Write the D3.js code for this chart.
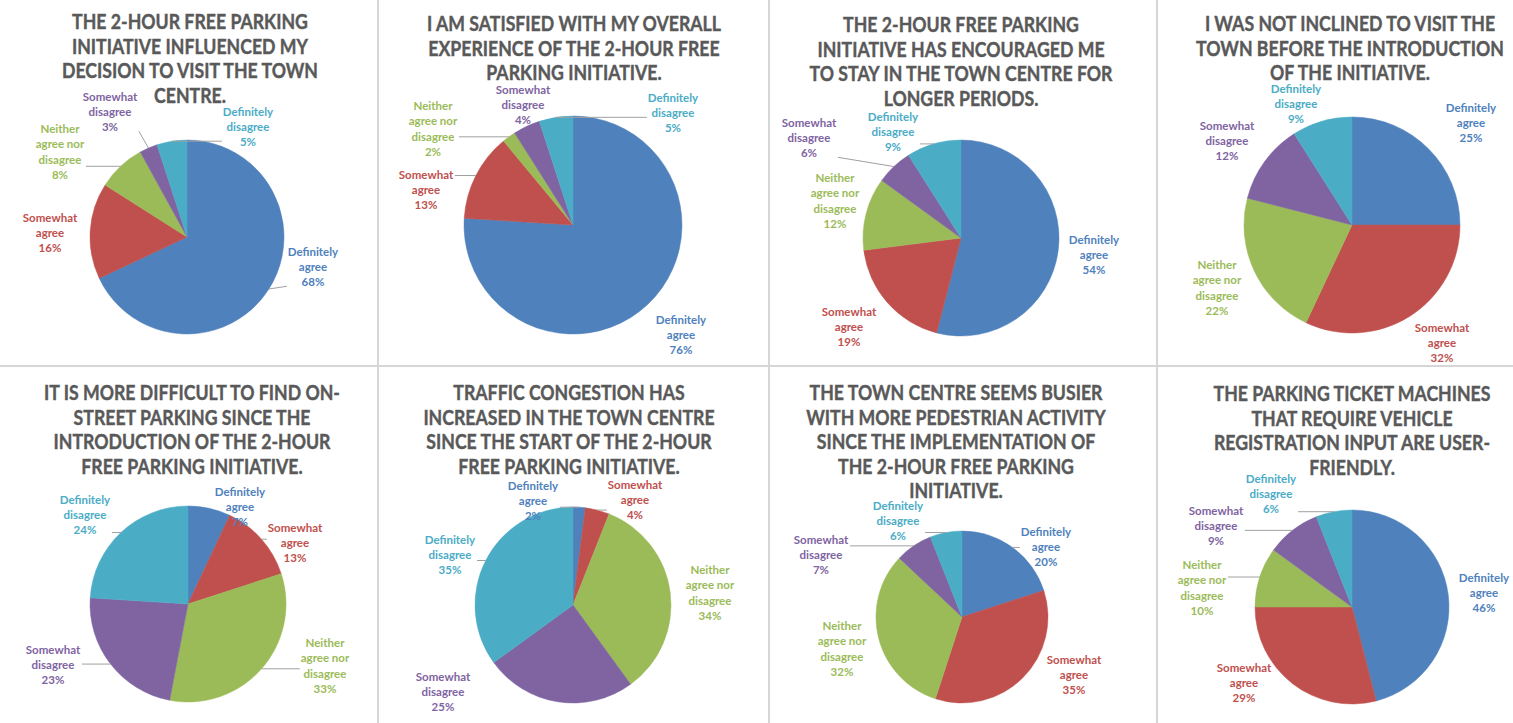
<!DOCTYPE html>
<html><head><meta charset="utf-8">
<script src="https://cdn.jsdelivr.net/npm/d3@7"></script>
<style>body{margin:0;background:#fff;} svg{display:block;}</style>
</head><body><svg id="c" width="1513" height="723"></svg>
<script>
// ---------- DATA ----------
const categories = ["Definitely agree","Somewhat agree","Neither agree nor disagree","Somewhat disagree","Definitely disagree"];
const categoryLines = [["Definitely","agree"],["Somewhat","agree"],["Neither","agree nor","disagree"],["Somewhat","disagree"],["Definitely","disagree"]];
const titles = [
  ["THE 2-HOUR FREE PARKING","INITIATIVE INFLUENCED MY","DECISION TO VISIT THE TOWN","CENTRE."],
  ["I AM SATISFIED WITH MY OVERALL","EXPERIENCE OF THE 2-HOUR FREE","PARKING INITIATIVE."],
  ["THE 2-HOUR FREE PARKING","INITIATIVE HAS ENCOURAGED ME","TO STAY IN THE TOWN CENTRE FOR","LONGER PERIODS."],
  ["I WAS NOT INCLINED TO VISIT THE","TOWN BEFORE THE INTRODUCTION","OF THE INITIATIVE."],
  ["IT IS MORE DIFFICULT TO FIND ON-","STREET PARKING SINCE THE","INTRODUCTION OF THE 2-HOUR","FREE PARKING INITIATIVE."],
  ["TRAFFIC CONGESTION HAS","INCREASED IN THE TOWN CENTRE","SINCE THE START OF THE 2-HOUR","FREE PARKING INITIATIVE."],
  ["THE TOWN CENTRE SEEMS BUSIER","WITH MORE PEDESTRIAN ACTIVITY","SINCE THE IMPLEMENTATION OF","THE 2-HOUR FREE PARKING","INITIATIVE."],
  ["THE PARKING TICKET MACHINES","THAT REQUIRE VEHICLE","REGISTRATION INPUT ARE USER-","FRIENDLY."]
];
const influencedVisit   = [68,16,8,3,5];
const satisfiedOverall  = [76,13,2,4,5];
const stayLonger        = [54,19,12,6,9];
const notInclinedBefore = [25,32,22,12,9];
const harderToPark      = [7,13,33,23,24];
const moreCongestion    = [2,4,34,25,35];
const busierCentre      = [20,35,32,7,6];
const machinesFriendly  = [46,29,10,9,6];
const series = [influencedVisit,satisfiedOverall,stayLonger,notInclinedBefore,harderToPark,moreCongestion,busierCentre,machinesFriendly];
const leaderFlags = [[1,0,1,1,1],[0,1,1,0,1],[0,0,0,1,1],[0,0,0,0,1],[0,1,1,1,1],[1,1,0,0,1],[1,0,0,1,1],[0,0,1,1,1]];

// ---------- LAYOUT ----------
const colors = ["#4f81bd","#c0504d","#9bbb59","#8064a2","#4bacc6"];
const layout = [
  {cx:187, cy:237, r:97,  tx:190,  ty:29,  lab:[[126,30],[-137,-4],[-127,-85],[-77,-125],[61,-110]]},
  {cx:573, cy:225, r:109, tx:574,  ty:31,  lab:[[108,110],[-147,-35],[-140,-96],[-50,-120],[100,-112]]},
  {cx:961, cy:238, r:98,  tx:961,  ty:32,  lab:[[133,17],[-112,89],[-126,-37],[-152,-100],[-68,-106]]},
  {cx:1352,cy:225, r:108, tx:1350, ty:31,  lab:[[119,-102],[90,118],[-135,63],[-125,-84],[-56,-121]]},
  {cx:188, cy:604, r:98,  tx:192,  ty:400, lab:[[52,-97],[107,-61],[137,62],[-135,61],[-103,-89]]},
  {cx:573, cy:605, r:98,  tx:569,  ty:400, lab:[[-40,-104],[62,-105],[137,-12],[-130,87],[-123,-50]]},
  {cx:962, cy:617, r:86,  tx:956,  ty:400, lab:[[84,-70],[112,58],[-120,32],[-141,-62],[-64,-96]]},
  {cx:1352,cy:607, r:97,  tx:1352, ty:401, lab:[[132,-14],[-108,76],[-150,-19],[-136,-81],[-81,-113]]}
];

const svg = d3.select("#c");
svg.append("rect").attr("width",1513).attr("height",723).attr("fill","#fff");

// separators
const sep = svg.append("g").attr("stroke","#d6d6d6").attr("stroke-width",2);
[378,769,1157].forEach(x=>sep.append("line").attr("x1",x).attr("x2",x).attr("y1",0).attr("y2",723));
sep.append("line").attr("x1",0).attr("x2",1513).attr("y1",366).attr("y2",366);

const pie = d3.pie().sort(null).value(d=>d);
const color = d3.scaleOrdinal().domain(categories).range(colors);
const TITLE_LH = 24.5, LABEL_LH = 15.3;

series.forEach((vals, pi) => {
  const L = layout[pi];
  const g = svg.append("g");
  // title
  titles[pi].forEach((line, i) => {
    g.append("text")
      .attr("transform", `translate(${L.tx},${L.ty + i*TITLE_LH}) scale(1,1.16)`)
      .attr("text-anchor","middle")
      .attr("font-family","Lato, 'Open Sans', sans-serif")
      .attr("font-weight",700)
      .attr("font-size",17.7)
      .attr("fill","#595959")
      .attr("stroke","#595959")
      .attr("stroke-width",0.35)
      .text(line);
  });
  const arcs = pie(vals);
  const arc = d3.arc().innerRadius(0).outerRadius(L.r);
  const pg = g.append("g").attr("transform",`translate(${L.cx},${L.cy})`);
  pg.selectAll("path").data(arcs).join("path")
    .attr("d", arc)
    .attr("fill", (d,i)=>color(categories[i]))
    .attr("stroke", (d,i)=>color(categories[i]))
    .attr("stroke-width",0.5);

  // labels
  const lg = g.append("g");
  const leaderG = g.append("g").attr("stroke","#a0a0a0").attr("stroke-width",1).attr("fill","none");
  arcs.forEach((a, i) => {
    const lines = categoryLines[i].concat([vals[i] + "%"]);
    const n = lines.length;
    const mx = L.cx + L.lab[i][0], my = L.cy + L.lab[i][1];
    const t = lg.append("text")
      .attr("text-anchor","middle")
      .attr("font-family","Lato, 'Open Sans', sans-serif")
      .attr("font-weight",700)
      .attr("font-size",11.5)
      .attr("fill", color(categories[i]));
    lines.forEach((s, k) => {
      t.append("tspan").attr("x", mx).attr("y", my + (k - (n-1)/2)*LABEL_LH + 4).text(s);
    });
    if (leaderFlags[pi][i]) {
      const bb = t.node().getBBox();
      const mid = (a.startAngle + a.endAngle)/2;
      const px = L.cx + Math.sin(mid)*L.r, py = L.cy - Math.cos(mid)*L.r;
      const pad = 1;
      const qx = Math.max(bb.x - pad, Math.min(bb.x + bb.width + pad, px));
      const qy = Math.max(bb.y + 3, Math.min(bb.y + bb.height - 2, py));
      leaderG.append("path").attr("d", `M${qx},${qy}L${px},${py}`);
    }
  });
});
</script></body></html>
